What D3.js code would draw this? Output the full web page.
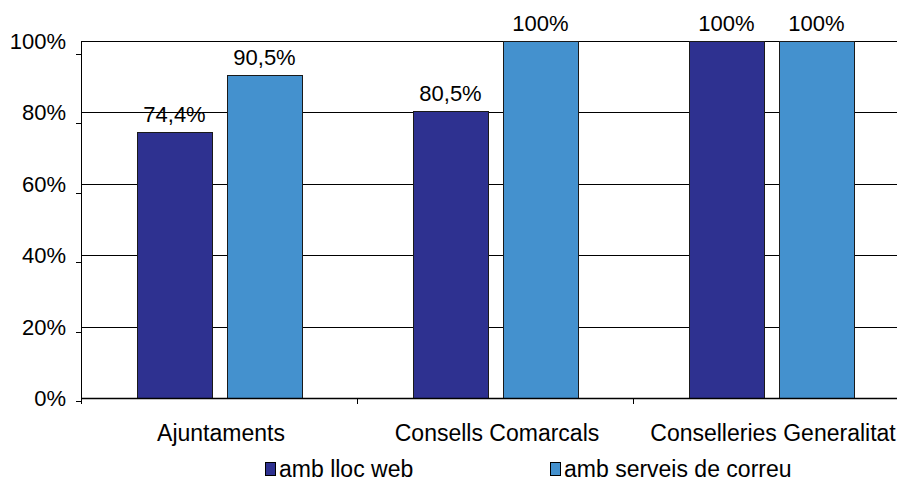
<!DOCTYPE html>
<html>
<head>
<meta charset="utf-8">
<script src="https://cdn.jsdelivr.net/npm/d3@7"></script>
<style>
  html, body { margin: 0; padding: 0; background: #fff; }
  svg { display: block; font-family: "Liberation Sans", Arial, sans-serif; }
</style>
</head>
<body>
<svg id="chart" width="897" height="483"></svg>
<script>
// ---- data ----
const categories = ["Ajuntaments", "Consells Comarcals", "Conselleries Generalitat"];
const seriesNames = ["amb lloc web", "amb serveis de correu"];
const webValues = [74.4, 80.5, 100];
const mailValues = [90.5, 100, 100];
const valueLabels = [["74,4%", "80,5%", "100%"], ["90,5%", "100%", "100%"]];
const yTicks = [0, 20, 40, 60, 80, 100];
const yTickLabels = ["0%", "20%", "40%", "60%", "80%", "100%"];
const colors = ["#2E3190", "#4491CE"];

const svg = d3.select("#chart");
const pLeft = 81, pRight = 909, pTop = 41, pBottom = 398;

const x0 = d3.scaleBand().domain(categories).range([pLeft, pRight]).paddingInner(0).paddingOuter(0);
const x1 = d3.scaleBand().domain(seriesNames).range([56, 221]).paddingInner(0.1667).paddingOuter(0);
const y = d3.scaleLinear().domain([0, 100]).range([pBottom, pTop]);
const yTickPos = d3.scaleLinear().domain([0, 100]).range([401, 54]);

// gridlines
svg.append("g").selectAll("line").data(yTicks.filter(d => d > 0)).join("line")
  .attr("x1", pLeft).attr("x2", 897)
  .attr("y1", d => Math.round(y(d)) + 0.5).attr("y2", d => Math.round(y(d)) + 0.5)
  .attr("stroke", "#000").attr("stroke-width", 1);

// bars
const table = categories.map((c, i) => ({cat: c, vals: [webValues[i], mailValues[i]], labels: [valueLabels[0][i], valueLabels[1][i]]}));
const groups = svg.append("g").selectAll("g").data(table).join("g")
  .attr("transform", d => `translate(${x0(d.cat)},0)`);
groups.selectAll("rect").data(d => d.vals.map((v, j) => ({v, s: seriesNames[j], j}))).join("rect")
  .attr("x", d => x1(d.s) + 0.5).attr("width", x1.bandwidth())
  .attr("y", d => Math.round(y(d.v)) + 0.5).attr("height", d => pBottom - Math.round(y(d.v)))
  .attr("fill", d => colors[d.j]).attr("stroke", "#1a1a1a").attr("stroke-width", 1);
groups.selectAll("text").data(d => d.vals.map((v, j) => ({v, s: seriesNames[j], j, label: d.labels[j]}))).join("text")
  .attr("x", d => x1(d.s) + x1.bandwidth() / 2)
  .attr("y", d => y(d.v) - 10)
  .attr("text-anchor", "middle").attr("font-size", 22).attr("fill", "#000")
  .text(d => d.label);

// y axis
svg.append("line").attr("x1", pLeft + 0.5).attr("x2", pLeft + 0.5).attr("y1", pTop).attr("y2", pBottom + 1)
  .attr("stroke", "#000");
svg.append("g").selectAll("line").data(yTicks).join("line")
  .attr("x1", pLeft - 5).attr("x2", pLeft)
  .attr("y1", d => Math.round(yTickPos(d)) + 0.5).attr("y2", d => Math.round(yTickPos(d)) + 0.5)
  .attr("stroke", "#000");
svg.append("g").selectAll("text").data(yTicks).join("text")
  .attr("x", 66).attr("y", d => y(d) + 8)
  .attr("text-anchor", "end").attr("font-size", 22).attr("fill", "#000")
  .text((d, i) => yTickLabels[i]);

// x axis
svg.append("line").attr("x1", pLeft).attr("x2", 897).attr("y1", pBottom + 0.5).attr("y2", pBottom + 0.5)
  .attr("stroke", "#000").attr("stroke-width", 1.5);
svg.append("g").selectAll("line").data(categories).join("line")
  .attr("x1", d => Math.round(x0(d)) + 0.5).attr("x2", d => Math.round(x0(d)) + 0.5)
  .attr("y1", pBottom).attr("y2", pBottom + 6)
  .attr("stroke", "#000");
svg.append("g").selectAll("text").data(categories).join("text")
  .attr("x", d => x0(d) + x0.bandwidth() / 2 + 2).attr("y", 441)
  .attr("text-anchor", "middle").attr("font-size", 23).attr("fill", "#000")
  .text(d => d);

// legend
const legendX = [265, 550];
const lg = svg.append("g").selectAll("g").data(seriesNames).join("g")
  .attr("transform", (d, i) => `translate(${legendX[i]},462)`);
lg.append("rect").attr("x", 0.5).attr("y", 0.5).attr("width", 10).attr("height", 13)
  .attr("fill", (d, i) => colors[i]).attr("stroke", "#000");
lg.append("text").attr("x", 14).attr("y", 15).attr("font-size", 23).attr("fill", "#000").text(d => d);
</script>
</body>
</html>
